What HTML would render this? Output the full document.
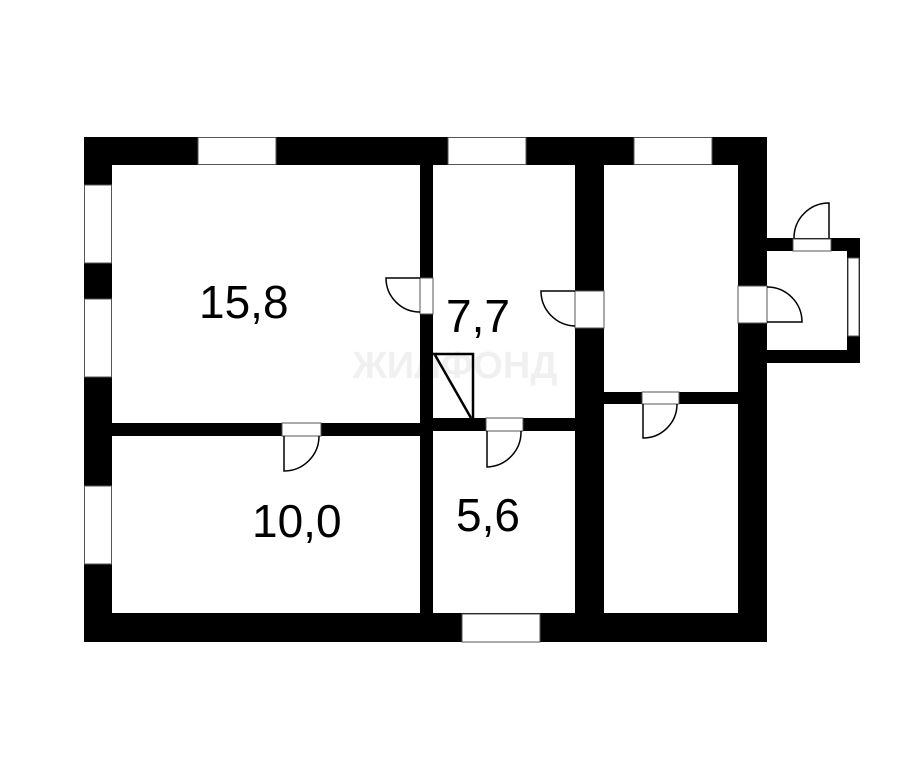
<!DOCTYPE html>
<html><head><meta charset="utf-8"><style>html,body{margin:0;padding:0;background:#fff}svg{display:block}</style></head>
<body>
<svg width="907" height="768" viewBox="0 0 907 768" xmlns="http://www.w3.org/2000/svg">
<rect width="907" height="768" fill="#fff"/>
<!-- main walls -->
<rect x="84" y="137" width="683" height="505" fill="#000"/>
<!-- porch walls -->
<rect x="738" y="238" width="122" height="125" fill="#000"/>
<rect x="767" y="251" width="80" height="99" fill="#fff"/>
<!-- rooms -->
<g fill="#fff">
<rect x="112" y="165" width="308" height="258"/>
<rect x="112" y="436" width="308" height="177"/>
<rect x="433" y="165" width="142" height="253"/>
<rect x="433" y="431" width="142" height="182"/>
<rect x="604" y="165" width="134" height="227"/>
<rect x="604" y="404" width="134" height="209"/>
</g>
<!-- windows -->
<g fill="#fff" stroke="#555" stroke-width="1">
<rect x="198" y="137.5" width="78" height="27"/>
<rect x="448" y="137.5" width="78" height="27"/>
<rect x="634" y="137.5" width="78" height="27"/>
<rect x="462" y="614" width="78" height="28"/>
<rect x="84.5" y="185" width="27" height="78"/>
<rect x="84.5" y="299" width="27" height="78"/>
<rect x="84.5" y="486" width="27" height="78"/>
<rect x="848" y="258" width="11" height="78"/>
<!-- door openings -->
<rect x="420" y="278" width="13" height="36"/>
<rect x="575" y="291" width="29" height="37"/>
<rect x="738" y="286" width="29" height="37"/>
<rect x="793" y="239" width="38" height="12"/>
<rect x="282" y="423" width="39" height="13"/>
<rect x="486" y="418" width="37" height="13"/>
<rect x="642" y="392" width="37" height="12"/>
</g>
<!-- door leaves -->
<g fill="none" stroke="#000" stroke-width="1.5">
<path d="M420 278 H386 A34 34 0 0 0 420 312"/>
<path d="M575 291 H541 A35 35 0 0 0 575 326"/>
<path d="M767 322 H802 A35 35 0 0 0 767 287"/>
<path d="M829 238 V203 A35 35 0 0 0 794 238"/>
<path d="M284 436 V471 A35 35 0 0 0 319 436"/>
<path d="M487 431 V467 A35 35 0 0 0 521 431"/>
<path d="M643 404 V438 A34 34 0 0 0 677 404"/>
</g>
<!-- closet -->
<g fill="none" stroke="#000" stroke-width="2.5">
<path d="M433 354 H473 V418"/>
<path d="M435 355 L471 418"/>
</g>
<!-- watermark -->
<text x="455" y="378" font-family="Liberation Sans, sans-serif" font-weight="bold" font-size="38" fill="#000" fill-opacity="0.06" text-anchor="middle">ЖИЛФОНД</text>
<!-- labels -->
<g font-family="Liberation Sans, sans-serif" font-size="46" fill="#000">
<text x="199" y="318">15,8</text>
<text x="446" y="332">7,7</text>
<text x="252" y="537">10,0</text>
<text x="456" y="531">5,6</text>
</g>
</svg>
</body></html>
